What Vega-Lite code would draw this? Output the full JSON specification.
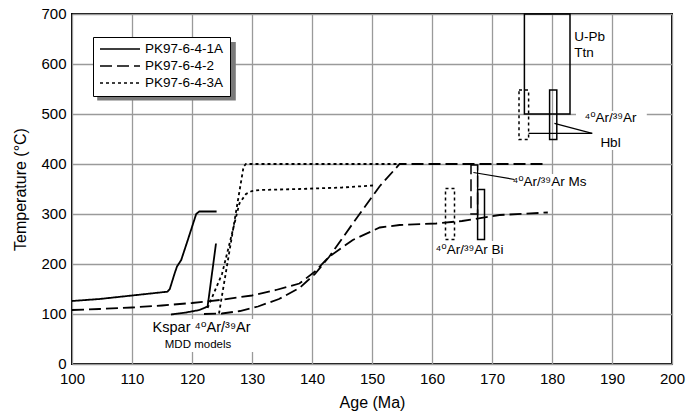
{
  "$schema": "https://vega.github.io/schema/vega-lite/v6.json",
  "width": 600,
  "height": 350,
  "autosize": {"type": "none"},
  "padding": {"left": 72, "top": 14, "right": 16, "bottom": 54},
  "background": "white",
  "config": {
    "view": {"stroke": "black", "strokeWidth": 2},
    "font": "Liberation Sans",
    "axis": {
      "domain": false, "ticks": false, "grid": true, "gridColor": "#9a9a9a", "gridWidth": 1.3,
      "labelFont": "Liberation Sans", "labelFontSize": 15, "labelColor": "black", "labelFlush": false,
      "titleFont": "Liberation Sans", "titleFontSize": 16, "titleFontWeight": "normal", "titleColor": "black"
    },
    "legend": {
      "orient": "none", "legendX": 21, "legendY": 23, "fillColor": "white", "strokeColor": "black",
      "padding": 6, "symbolType": "stroke", "symbolSize": 1600, "symbolStrokeWidth": 1.5,
      "symbolStrokeColor": "black", "labelFont": "Liberation Sans", "labelFontSize": 13.5,
      "labelColor": "black", "clipHeight": 12, "rowPadding": 3, "labelOffset": 4
    }
  },
  "datasets": {
    "curves": [
      {"age": 100, "temp": 126, "sample": "PK97-6-4-1A", "curve": "1A-main"},
      {"age": 104.6, "temp": 130, "sample": "PK97-6-4-1A", "curve": "1A-main"},
      {"age": 110, "temp": 137, "sample": "PK97-6-4-1A", "curve": "1A-main"},
      {"age": 115.9, "temp": 144.6, "sample": "PK97-6-4-1A", "curve": "1A-main"},
      {"age": 116.3, "temp": 150, "sample": "PK97-6-4-1A", "curve": "1A-main"},
      {"age": 117.1, "temp": 181, "sample": "PK97-6-4-1A", "curve": "1A-main"},
      {"age": 117.5, "temp": 195, "sample": "PK97-6-4-1A", "curve": "1A-main"},
      {"age": 118.2, "temp": 208, "sample": "PK97-6-4-1A", "curve": "1A-main"},
      {"age": 119.3, "temp": 248, "sample": "PK97-6-4-1A", "curve": "1A-main"},
      {"age": 120.7, "temp": 300, "sample": "PK97-6-4-1A", "curve": "1A-main"},
      {"age": 121.2, "temp": 305, "sample": "PK97-6-4-1A", "curve": "1A-main"},
      {"age": 124.1, "temp": 305, "sample": "PK97-6-4-1A", "curve": "1A-main"},
      {"age": 116.5, "temp": 99, "sample": "PK97-6-4-1A", "curve": "1A-kspar"},
      {"age": 119, "temp": 103, "sample": "PK97-6-4-1A", "curve": "1A-kspar"},
      {"age": 121.25, "temp": 108, "sample": "PK97-6-4-1A", "curve": "1A-kspar"},
      {"age": 122.6, "temp": 115, "sample": "PK97-6-4-1A", "curve": "1A-kspar"},
      {"age": 124.0, "temp": 241, "sample": "PK97-6-4-1A", "curve": "1A-kspar"},
      {"age": 100, "temp": 108, "sample": "PK97-6-4-2", "curve": "2a"},
      {"age": 104.6, "temp": 110, "sample": "PK97-6-4-2", "curve": "2a"},
      {"age": 110, "temp": 113, "sample": "PK97-6-4-2", "curve": "2a"},
      {"age": 115, "temp": 117, "sample": "PK97-6-4-2", "curve": "2a"},
      {"age": 120, "temp": 122, "sample": "PK97-6-4-2", "curve": "2a"},
      {"age": 124.6, "temp": 128, "sample": "PK97-6-4-2", "curve": "2a"},
      {"age": 130, "temp": 137, "sample": "PK97-6-4-2", "curve": "2a"},
      {"age": 134, "temp": 148, "sample": "PK97-6-4-2", "curve": "2a"},
      {"age": 137.9, "temp": 161, "sample": "PK97-6-4-2", "curve": "2a"},
      {"age": 140.5, "temp": 185, "sample": "PK97-6-4-2", "curve": "2a"},
      {"age": 142.9, "temp": 215, "sample": "PK97-6-4-2", "curve": "2a"},
      {"age": 146.8, "temp": 248, "sample": "PK97-6-4-2", "curve": "2a"},
      {"age": 151.3, "temp": 273, "sample": "PK97-6-4-2", "curve": "2a"},
      {"age": 154.6, "temp": 278, "sample": "PK97-6-4-2", "curve": "2a"},
      {"age": 160.7, "temp": 281, "sample": "PK97-6-4-2", "curve": "2a"},
      {"age": 165, "temp": 286, "sample": "PK97-6-4-2", "curve": "2a"},
      {"age": 171.25, "temp": 298, "sample": "PK97-6-4-2", "curve": "2a"},
      {"age": 179.3, "temp": 303, "sample": "PK97-6-4-2", "curve": "2a"},
      {"age": 122, "temp": 100, "sample": "PK97-6-4-2", "curve": "2b"},
      {"age": 125, "temp": 101, "sample": "PK97-6-4-2", "curve": "2b"},
      {"age": 128, "temp": 106, "sample": "PK97-6-4-2", "curve": "2b"},
      {"age": 131, "temp": 115, "sample": "PK97-6-4-2", "curve": "2b"},
      {"age": 134.5, "temp": 130, "sample": "PK97-6-4-2", "curve": "2b"},
      {"age": 137.9, "temp": 152, "sample": "PK97-6-4-2", "curve": "2b"},
      {"age": 140.5, "temp": 180, "sample": "PK97-6-4-2", "curve": "2b"},
      {"age": 142.9, "temp": 215, "sample": "PK97-6-4-2", "curve": "2b"},
      {"age": 146.8, "temp": 281, "sample": "PK97-6-4-2", "curve": "2b"},
      {"age": 151.25, "temp": 355, "sample": "PK97-6-4-2", "curve": "2b"},
      {"age": 154.6, "temp": 400, "sample": "PK97-6-4-2", "curve": "2b"},
      {"age": 179, "temp": 400, "sample": "PK97-6-4-2", "curve": "2b"},
      {"age": 124.5, "temp": 101, "sample": "PK97-6-4-3A", "curve": "3a"},
      {"age": 128.6, "temp": 395, "sample": "PK97-6-4-3A", "curve": "3a"},
      {"age": 129, "temp": 400, "sample": "PK97-6-4-3A", "curve": "3a"},
      {"age": 155, "temp": 400, "sample": "PK97-6-4-3A", "curve": "3a"},
      {"age": 122.6, "temp": 112, "sample": "PK97-6-4-3A", "curve": "3b"},
      {"age": 125, "temp": 180, "sample": "PK97-6-4-3A", "curve": "3b"},
      {"age": 127.9, "temp": 321, "sample": "PK97-6-4-3A", "curve": "3b"},
      {"age": 129, "temp": 340, "sample": "PK97-6-4-3A", "curve": "3b"},
      {"age": 130, "temp": 346, "sample": "PK97-6-4-3A", "curve": "3b"},
      {"age": 131.25, "temp": 348, "sample": "PK97-6-4-3A", "curve": "3b"},
      {"age": 137.9, "temp": 350, "sample": "PK97-6-4-3A", "curve": "3b"},
      {"age": 145, "temp": 353, "sample": "PK97-6-4-3A", "curve": "3b"},
      {"age": 150.2, "temp": 357, "sample": "PK97-6-4-3A", "curve": "3b"}
    ],
    "boxes": [
      {"age": 175.4, "age2": 183.0, "temp": 500, "temp2": 700, "sample": "PK97-6-4-1A"},
      {"age": 174.5, "age2": 176.1, "temp": 449, "temp2": 548, "sample": "PK97-6-4-3A"},
      {"age": 179.6, "age2": 180.8, "temp": 449, "temp2": 548, "sample": "PK97-6-4-1A"},
      {"age": 162.25, "age2": 163.75, "temp": 249, "temp2": 351, "sample": "PK97-6-4-3A"},
      {"age": 167.6, "age2": 168.75, "temp": 249, "temp2": 349, "sample": "PK97-6-4-1A"},
      {"age": 166.5, "age2": 167.6, "temp": 300, "temp2": 398, "sample": "PK97-6-4-2"}
    ],
    "leaders": [
      {"age": 176.1, "temp": 461.3, "age2": 186.7, "temp2": 461.3},
      {"age": 180.4, "temp": 481.3, "age2": 186.7, "temp2": 461.3},
      {"age": 166.9, "temp": 383, "age2": 173.75, "temp2": 369},
      {"age": 167.6, "temp": 398, "age2": 167.6, "temp2": 295}
    ],
    "bg": [
      {"age": 112.2, "age2": 131.2, "temp": 24, "temp2": 90, "kind": "label"},
      {"age": 161, "age2": 171.5, "temp": 212, "temp2": 246, "kind": "label"},
      {"age": 172.9, "age2": 185.8, "temp": 350, "temp2": 380, "kind": "label"},
      {"age": 184, "age2": 195.8, "temp": 428, "temp2": 506, "kind": "label"},
      {"age": 104.2, "age2": 127.3, "temp": 527, "temp2": 644, "kind": "shadow"}
    ],
    "labels": [
      {"age": 183.7, "temp": 654, "text": "U-Pb", "anchor": "left", "size": "n"},
      {"age": 183.7, "temp": 622, "text": "Ttn", "anchor": "left", "size": "n"},
      {"age": 189.75, "temp": 492, "text": "⁴⁰Ar/³⁹Ar", "anchor": "center", "size": "n"},
      {"age": 189.75, "temp": 442, "text": "Hbl", "anchor": "center", "size": "n"},
      {"age": 173.4, "temp": 364, "text": "⁴⁰Ar/³⁹Ar Ms", "anchor": "left", "size": "n"},
      {"age": 166.25, "temp": 228, "text": "⁴⁰Ar/³⁹Ar Bi", "anchor": "center", "size": "n"},
      {"age": 121.6, "temp": 72, "text": "Kspar ⁴⁰Ar/³⁹Ar", "anchor": "center", "size": "k"},
      {"age": 121, "temp": 38, "text": "MDD models", "anchor": "center", "size": "s"}
    ]
  },
  "encoding": {
    "x": {"field": "age", "type": "quantitative", "title": "Age (Ma)",
          "scale": {"domain": [100, 200], "nice": false, "zero": false},
          "axis": {"values": [100, 110, 120, 130, 140, 150, 160, 170, 180, 190, 200], "labelPadding": 7, "titlePadding": 8}},
    "y": {"field": "temp", "type": "quantitative", "title": "Temperature (°C)",
          "scale": {"domain": [0, 700], "nice": false},
          "axis": {"values": [0, 100, 200, 300, 400, 500, 600, 700], "labelPadding": 6, "titlePadding": 12, "labelOffset": -1}}
  },
  "layer": [
    {
      "data": {"name": "bg"},
      "transform": [{"filter": "datum.kind == 'label'"}],
      "mark": {"type": "rect", "fill": "white", "stroke": null},
      "encoding": {"x2": {"field": "age2"}, "y2": {"field": "temp2"}}
    },
    {
      "data": {"name": "bg"},
      "transform": [{"filter": "datum.kind == 'shadow'"}],
      "mark": {"type": "rect", "fill": "#7a7a7a", "stroke": null},
      "encoding": {"x2": {"field": "age2"}, "y2": {"field": "temp2"}}
    },
    {
      "data": {"name": "boxes"},
      "transform": [{"filter": "datum.sample == 'PK97-6-4-1A'"}],
      "mark": {"type": "rect", "filled": false, "stroke": "black", "strokeWidth": 1.5},
      "encoding": {"x2": {"field": "age2"}, "y2": {"field": "temp2"}}
    },
    {
      "data": {"name": "boxes"},
      "transform": [{"filter": "datum.sample == 'PK97-6-4-2'"}],
      "mark": {"type": "rect", "filled": false, "stroke": "black", "strokeWidth": 1.5, "strokeDash": [12, 5]},
      "encoding": {"x2": {"field": "age2"}, "y2": {"field": "temp2"}}
    },
    {
      "data": {"name": "boxes"},
      "transform": [{"filter": "datum.sample == 'PK97-6-4-3A'"}],
      "mark": {"type": "rect", "filled": false, "stroke": "black", "strokeWidth": 1.5, "strokeDash": [3, 3]},
      "encoding": {"x2": {"field": "age2"}, "y2": {"field": "temp2"}}
    },
    {
      "data": {"name": "leaders"},
      "mark": {"type": "rule", "color": "black", "strokeWidth": 1.2},
      "encoding": {"x2": {"field": "age2"}, "y2": {"field": "temp2"}}
    },
    {
      "data": {"name": "curves"},
      "mark": {"type": "line", "color": "black", "strokeWidth": 1.8},
      "encoding": {
        "detail": {"field": "curve"},
        "strokeDash": {"field": "sample", "type": "nominal",
              "scale": {"domain": ["PK97-6-4-1A", "PK97-6-4-2", "PK97-6-4-3A"], "range": [[1, 0], [12, 5], [3, 3]]},
              "legend": {"title": null}}
      }
    },
    {
      "data": {"name": "labels"},
      "transform": [{"filter": "datum.size == 'n' && datum.anchor == 'left'"}],
      "mark": {"type": "text", "fontSize": 13.5, "color": "black", "baseline": "middle", "align": "left", "font": "Liberation Sans, DejaVu Sans"},
      "encoding": {"text": {"field": "text"}}
    },
    {
      "data": {"name": "labels"},
      "transform": [{"filter": "datum.size == 'n' && datum.anchor == 'center'"}],
      "mark": {"type": "text", "fontSize": 13.5, "color": "black", "baseline": "middle", "align": "center", "font": "Liberation Sans, DejaVu Sans"},
      "encoding": {"text": {"field": "text"}}
    },
    {
      "data": {"name": "labels"},
      "transform": [{"filter": "datum.size == 'k'"}],
      "mark": {"type": "text", "fontSize": 14.5, "color": "black", "baseline": "middle", "align": "center", "font": "Liberation Sans, DejaVu Sans"},
      "encoding": {"text": {"field": "text"}}
    },
    {
      "data": {"name": "labels"},
      "transform": [{"filter": "datum.size == 's'"}],
      "mark": {"type": "text", "fontSize": 11.5, "color": "black", "baseline": "middle", "align": "center", "font": "Liberation Sans"},
      "encoding": {"text": {"field": "text"}}
    }
  ]
}
